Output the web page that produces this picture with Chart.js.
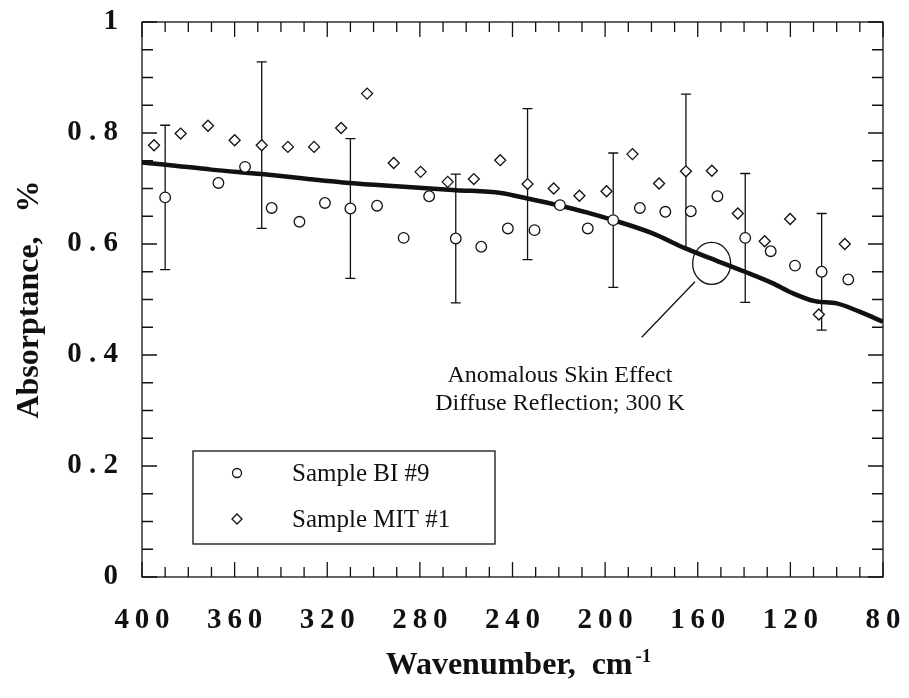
<!DOCTYPE html>
<html>
<head>
<meta charset="utf-8">
<script src="https://cdn.jsdelivr.net/npm/chart.js@4.4.1/dist/chart.umd.min.js"></script>
<style>
  html, body { margin: 0; padding: 0; background: #fff; }
  #wrap { width: 909px; height: 698px; }
</style>
</head>
<body>
<div id="wrap"><canvas id="absChart" width="909" height="698"></canvas></div>
<script>
const SERIF = '"Liberation Serif", "Times New Roman", Times, serif';
const INK = '#111';

// Sample BI #9 (open circles)
const bi9X = [390, 367, 355.5, 344, 332, 321, 310, 298.5, 287, 276, 264.5, 253.5, 242, 230.5,
  219.5, 207.5, 196.5, 185, 174, 163, 151.5, 139.5, 128.5, 118, 106.5, 95];
const bi9Y = [0.684, 0.710, 0.739, 0.665, 0.640, 0.674, 0.664, 0.669, 0.611, 0.686, 0.610, 0.595, 0.628, 0.625,
  0.670, 0.628, 0.643, 0.665, 0.658, 0.659, 0.686, 0.611, 0.587, 0.561, 0.550, 0.536];
const bi9Err = [0.130, 0, 0, 0, 0, 0, 0.126, 0, 0, 0, 0.116, 0, 0, 0,
  0, 0, 0.121, 0, 0, 0, 0, 0.116, 0, 0, 0.105, 0];

// Sample MIT #1 (open diamonds)
const mit1X = [394.8, 383.3, 371.5, 360, 348.3, 337, 325.7, 314, 302.8, 291.3, 279.7, 268, 256.7, 245.3,
  233.5, 222.2, 211.1, 199.4, 188.2, 176.7, 165.1, 153.9, 142.7, 131.1, 120.1, 107.7, 96.5];
const mit1Y = [0.778, 0.799, 0.813, 0.787, 0.778, 0.775, 0.775, 0.809, 0.871, 0.746, 0.730, 0.712, 0.717, 0.751,
  0.708, 0.700, 0.687, 0.695, 0.762, 0.709, 0.731, 0.732, 0.655, 0.605, 0.645, 0.473, 0.600];
const mit1Err = [0, 0, 0, 0, 0.150, 0, 0, 0, 0, 0, 0, 0, 0, 0,
  0.136, 0, 0, 0, 0, 0, 0.139, 0, 0, 0, 0, 0, 0];

// Anomalous skin effect, diffuse reflection, 300 K (theory curve)
const theoryX = [400, 389.6, 370, 348.3, 330, 310.3, 290, 264.3, 245, 233.5, 219.5, 208, 196.5, 180,
  165.3, 152, 139.6, 128, 118.8, 109.4, 100, 90.1, 80];
const theoryY = [0.747, 0.743, 0.734, 0.726, 0.718, 0.710, 0.704, 0.697, 0.692, 0.682, 0.669, 0.657, 0.643, 0.620,
  0.592, 0.570, 0.550, 0.530, 0.511, 0.497, 0.493, 0.478, 0.460];

const xTicks = [400, 360, 320, 280, 240, 200, 160, 120, 80];
const yTicks = [0, 0.2, 0.4, 0.6, 0.8, 1];

const noteLines = ['Anomalous Skin Effect', 'Diffuse Reflection; 300 K'];
const noteAt = { x: 219.5, y: 0.352 };       // first text line, data units
const ovalAt = { x: 154, y: 0.565 };
const leaderFrom = { x: 161.2, y: 0.532 };
const leaderTo = { x: 184.2, y: 0.432 };

const toPoints = (xs, ys) => xs.map((x, i) => ({ x, y: ys[i] }));
const spaced = (s, gap) => String(s).split('').join(gap);
const noEdgePad = (s) => { s.paddingLeft = s.paddingRight = s.paddingTop = s.paddingBottom = 0; };

const errorBars = {
  id: 'errorBars',
  afterDatasetDraw(chart, args) {
    if (args.index !== 2) return;
    const { ctx, scales: { x, y } } = chart;
    ctx.save();
    ctx.strokeStyle = INK;
    ctx.lineWidth = 1.3;
    ctx.beginPath();
    [[bi9X, bi9Y, bi9Err], [mit1X, mit1Y, mit1Err]].forEach(([xs, ys, es]) => {
      xs.forEach((v, i) => {
        if (!es[i]) return;
        const px = x.getPixelForValue(v);
        const top = y.getPixelForValue(ys[i] + es[i]);
        const bot = y.getPixelForValue(ys[i] - es[i]);
        ctx.moveTo(px, top); ctx.lineTo(px, bot);
        ctx.moveTo(px - 5, top); ctx.lineTo(px + 5, top);
        ctx.moveTo(px - 5, bot); ctx.lineTo(px + 5, bot);
      });
    });
    ctx.stroke();
    ctx.restore();
  }
};

const frameTicks = {
  id: 'frameTicks',
  afterDatasetsDraw(chart) {
    const { ctx, chartArea: a, scales: { x, y } } = chart;
    ctx.save();
    ctx.strokeStyle = INK;
    ctx.lineWidth = 1.3;
    ctx.strokeRect(a.left, a.top, a.right - a.left, a.bottom - a.top);
    ctx.beginPath();
    for (let v = x.min; v <= x.max; v += 10) {
      const px = x.getPixelForValue(v);
      const len = (v - x.min) % 40 === 0 ? 15 : 10;
      ctx.moveTo(px, a.bottom); ctx.lineTo(px, a.bottom - len);
      ctx.moveTo(px, a.top); ctx.lineTo(px, a.top + len);
    }
    for (let i = 0; i <= 20; i++) {
      const py = y.getPixelForValue(i * 0.05);
      const len = i % 4 === 0 ? 15 : 11;
      ctx.moveTo(a.left, py); ctx.lineTo(a.left + len, py);
      ctx.moveTo(a.right, py); ctx.lineTo(a.right - len, py);
    }
    ctx.stroke();
    ctx.restore();
  }
};

const extras = {
  id: 'extras',
  afterDraw(chart) {
    const { ctx, chartArea: a, scales: { x, y } } = chart;
    ctx.save();
    ctx.strokeStyle = INK;
    ctx.fillStyle = INK;
    ctx.lineWidth = 1.3;

    // oval + leader line
    ctx.beginPath();
    ctx.ellipse(x.getPixelForValue(ovalAt.x), y.getPixelForValue(ovalAt.y), 19, 21, 0, 0, Math.PI * 2);
    ctx.stroke();
    ctx.beginPath();
    ctx.moveTo(x.getPixelForValue(leaderFrom.x), y.getPixelForValue(leaderFrom.y));
    ctx.lineTo(x.getPixelForValue(leaderTo.x), y.getPixelForValue(leaderTo.y));
    ctx.stroke();

    // annotation text
    ctx.font = '24px ' + SERIF;
    ctx.textAlign = 'center';
    ctx.textBaseline = 'alphabetic';
    const nx = x.getPixelForValue(noteAt.x);
    const ny = y.getPixelForValue(noteAt.y);
    noteLines.forEach((t, i) => ctx.fillText(t, nx, ny + i * 28));

    // legend box
    const bx = 193, by = 451, bw = 302, bh = 93;
    ctx.fillStyle = '#fff';
    ctx.fillRect(bx, by, bw, bh);
    ctx.strokeRect(bx, by, bw, bh);
    ctx.font = '25px ' + SERIF;
    ctx.textAlign = 'left';
    ctx.textBaseline = 'middle';
    chart.data.datasets.slice(0, 2).forEach((ds, i) => {
      const cy = by + 22 + i * 46;
      ctx.fillStyle = '#fff';
      Chart.helpers.drawPoint(ctx, {
        pointStyle: ds.pointStyle, radius: ds.pointStyle === 'circle' ? 4.5 : 5, borderWidth: 1.3
      }, bx + 44, cy);
      ctx.fillStyle = INK;
      ctx.fillText(ds.label, bx + 99, cy + 1);
    });

    // x axis title with superscript
    const cx = (a.left + a.right) / 2 + 6;
    const base = 674;
    ctx.fillStyle = INK;
    ctx.textBaseline = 'alphabetic';
    ctx.font = 'bold 32px ' + SERIF;
    const main = 'Wavenumber,  cm';
    const wMain = ctx.measureText(main).width;
    ctx.font = 'bold 19px ' + SERIF;
    const sup = '-1';
    const wSup = ctx.measureText(sup).width;
    const x0 = cx - (wMain + wSup + 3) / 2;
    ctx.font = 'bold 32px ' + SERIF;
    ctx.fillText(main, x0, base);
    ctx.font = 'bold 19px ' + SERIF;
    ctx.fillText(sup, x0 + wMain + 3, base - 12);
    ctx.restore();
  }
};

new Chart(document.getElementById('absChart'), {
  type: 'scatter',
  data: {
    datasets: [
      {
        label: 'Sample BI #9',
        data: toPoints(bi9X, bi9Y),
        pointStyle: 'circle',
        pointRadius: 5.3,
        pointBorderWidth: 1.3,
        pointBorderColor: INK,
        pointBackgroundColor: '#fff'
      },
      {
        label: 'Sample MIT #1',
        data: toPoints(mit1X, mit1Y),
        pointStyle: 'rectRot',
        pointRadius: 5.5,
        pointBorderWidth: 1.3,
        pointBorderColor: INK,
        pointBackgroundColor: '#fff'
      },
      {
        label: 'Anomalous Skin Effect',
        data: toPoints(theoryX, theoryY),
        showLine: true,
        pointRadius: 0,
        borderColor: INK,
        borderWidth: 4.5,
        cubicInterpolationMode: 'monotone'
      }
    ]
  },
  options: {
    responsive: false,
    animation: false,
    layout: { padding: { top: 22, right: 26, left: 0, bottom: 0 } },
    plugins: { legend: { display: false }, tooltip: { enabled: false } },
    scales: {
      x: {
        type: 'linear',
        reverse: true,
        min: 80,
        max: 400,
        afterBuildTicks: (s) => { s.ticks = xTicks.map(v => ({ value: v })); },
        afterFit: (s) => { s.height = 121; noEdgePad(s); },
        grid: { display: false, drawTicks: false },
        border: { display: false },
        ticks: {
          padding: 26,
          color: INK,
          maxRotation: 0,
          autoSkip: false,
          font: { family: SERIF, size: 29, weight: 'bold' },
          callback: (v) => spaced(v, '\u2009')
        }
      },
      y: {
        min: 0,
        max: 1,
        afterBuildTicks: (s) => { s.ticks = yTicks.map(v => ({ value: v })); },
        afterFit: (s) => { s.width = 142; noEdgePad(s); },
        grid: { display: false, drawTicks: false },
        border: { display: false },
        title: {
          display: true,
          text: 'Absorptance,   %',
          color: INK,
          padding: { top: 11, bottom: 0 },
          font: { family: SERIF, size: 32, weight: 'bold' }
        },
        ticks: {
          padding: 24,
          color: INK,
          autoSkip: false,
          font: { family: SERIF, size: 29, weight: 'bold' },
          callback: (v) => (v === 0 || v === 1) ? String(v) : spaced(v.toFixed(1), '\u2005')
        }
      }
    }
  },
  plugins: [errorBars, frameTicks, extras]
});
</script>
</body>
</html>
